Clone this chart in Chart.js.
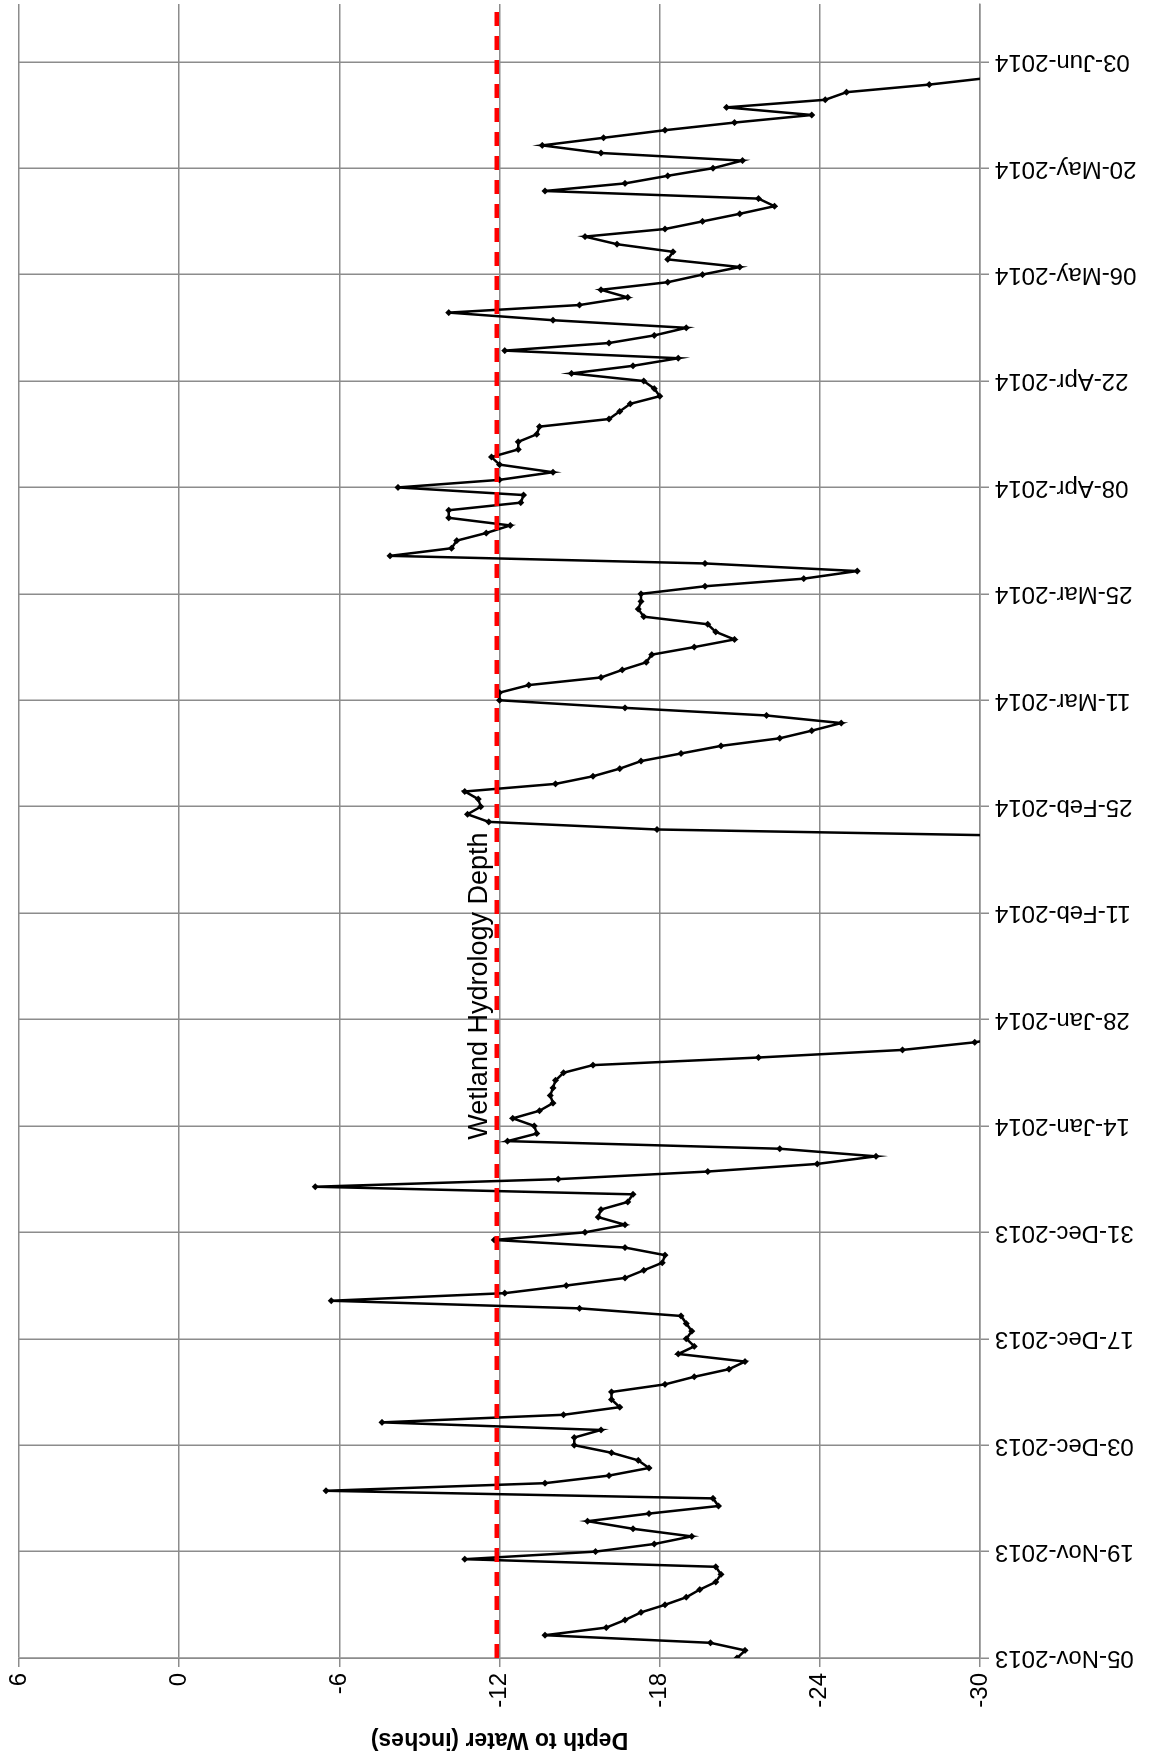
<!DOCTYPE html>
<html>
<head>
<meta charset="utf-8">
<script src="https://cdn.jsdelivr.net/npm/chart.js@4.4.0/dist/chart.umd.min.js"></script>
<style>
  html, body { margin: 0; padding: 0; background: #fff; overflow: hidden; }
  body { width: 1149px; height: 1763px; position: relative; }
  /* chart is drawn landscape, then turned a quarter to the left like the scan */
  #wrap { position: absolute; left: 0; top: 0; width: 1763px; height: 1149px;
          transform-origin: 0 0; transform: translate(0, 1763px) rotate(-90deg); }
</style>
</head>
<body>
<div id="wrap"><canvas id="depthChart" width="1763" height="1149"></canvas></div>
<script>
// daily readings, depth to water in inches
const startNovJan = '2013-11-05';
const depthsNovJan = [
  -20.9, -21.2, -19.9, -13.7, -16.0, -16.7, -17.3, -18.2, -19.0, -19.5,
  -20.1, -20.3, -20.1, -10.7, -15.6, -17.8, -19.2, -17.0, -15.3, -17.6,
  -20.2, -20.0, -5.5, -13.7, -16.1, -17.6, -17.2, -16.2, -14.8, -14.8,
  -15.8, -7.6, -14.4, -16.5, -16.2, -16.2, -18.2, -19.3, -20.6, -21.2,
  -18.7, -19.3, -19.0, -19.2, -19.0, -18.8, -15.0, -5.7, -12.2, -14.5,
  -16.7, -17.4, -18.1, -18.2, -16.7, -11.8, -15.2, -16.7, -15.7, -15.8,
  -16.8, -17.0, -5.1, -14.2, -19.8, -23.9, -26.1, -22.5, -12.3, -13.4,
  -13.3, -12.5, -13.5, -14.0, -13.9, -14.0, -14.1, -14.4, -15.5, -21.7,
  -27.1, -29.8, -31.5
];
const startFebJun = '2014-02-21';
const depthsFebJun = [
  -34.3, -17.9, -11.6, -10.8, -11.3, -11.2, -10.7, -14.1, -15.5, -16.5,
  -17.3, -18.8, -20.3, -22.5, -23.7, -24.8, -22.0, -16.7, -12.0, -12.0,
  -13.1, -15.8, -16.6, -17.5, -17.7, -19.3, -20.8, -20.1, -19.8, -17.4,
  -17.2, -17.3, -17.3, -19.7, -23.4, -25.4, -19.7, -7.9, -10.2, -10.4,
  -11.5, -12.4, -10.1, -10.1, -12.8, -12.9, -8.2, -12.0, -14.0, -12.0,
  -11.7, -12.7, -12.7, -13.4, -13.5, -16.1, -16.5, -16.9, -18.0, -17.8,
  -17.4, -14.7, -17.0, -18.7, -12.2, -16.1, -17.8, -19.0, -14.0, -10.1,
  -15.0, -16.8, -15.8, -18.3, -19.6, -21.0, -18.3, -18.5, -16.4, -15.2,
  -18.2, -19.6, -21.0, -22.3, -21.7, -13.7, -16.7, -18.3, -20.0, -21.1,
  -15.8, -13.6, -15.9, -18.2, -20.8, -23.7, -20.5, -24.2, -25.0, -28.1, -30.6
];
const wetlandDepth = -11.9;
const wetlandLabel = 'Wetland Hydrology Depth';

const tickDates = ['05-Nov-2013', '19-Nov-2013', '03-Dec-2013', '17-Dec-2013', '31-Dec-2013',
  '14-Jan-2014', '28-Jan-2014', '11-Feb-2014', '25-Feb-2014', '11-Mar-2014', '25-Mar-2014',
  '08-Apr-2014', '22-Apr-2014', '06-May-2014', '20-May-2014', '03-Jun-2014'];
const depthTicks = [6, 0, -6, -12, -18, -24, -30];
const lastDay = 217.6; // axis runs on past 03-Jun, page is cut there

const dayMs = 86400000;
function dayOf(iso) {
  return Math.round((Date.parse(iso) - Date.parse(startNovJan)) / dayMs);
}
function toPoints(start, values) {
  const d0 = dayOf(start);
  return values.map((v, i) => ({ x: d0 + i, y: v }));
}
const readings = toPoints(startNovJan, depthsNovJan).concat(toPoints(startFebJun, depthsFebJun));

Chart.defaults.font.family = '"Liberation Sans", Arial, sans-serif';
Chart.defaults.color = '#000';

// label over the red line
const wetlandText = {
  id: 'wetlandText',
  afterDatasetsDraw(chart) {
    const { ctx, scales } = chart;
    const x = scales.x.getPixelForValue(88.4);
    const y = scales.y.getPixelForValue(wetlandDepth);
    ctx.save();
    ctx.font = '27px "Liberation Sans", Arial, sans-serif';
    ctx.fillStyle = '#000';
    ctx.textAlign = 'center';
    ctx.textBaseline = 'bottom';
    ctx.fillText(wetlandLabel, x, y - 4);
    ctx.restore();
  }
};

const ctx = document.getElementById('depthChart').getContext('2d');
const depthChart = new Chart(ctx, {
  type: 'line',
  data: {
    datasets: [{
      label: 'Wetland',
      data: [{ x: 0, y: wetlandDepth }, { x: lastDay, y: wetlandDepth }],
      borderColor: '#ff0000',
      borderWidth: 4.5,
      borderDash: [14, 10],
      pointRadius: 0,
      order: 0
    }, {
      label: 'Depth',
      data: readings,
      borderColor: '#000',
      borderWidth: 2.5,
      pointStyle: 'rectRot',
      pointRadius: 3.5,
      pointBackgroundColor: '#000',
      pointBorderColor: '#000',
      pointBorderWidth: 0,
      tension: 0,
      order: 1
    }]
  },
  options: {
    responsive: false,
    animation: false,
    devicePixelRatio: 1,
    layout: { padding: { top: 19, right: 0, bottom: 0, left: 0 } },
    plugins: { legend: { display: false }, tooltip: { enabled: false } },
    scales: {
      x: {
        type: 'linear',
        min: 0,
        max: lastDay,
        afterBuildTicks: (scale) => {
          scale.ticks = scale.ticks.filter(t => t.value % 14 === 0 && t.value <= 210);
        },
        afterFit: (scale) => {
          scale.height = 169;
          scale.paddingLeft = 0;
          scale.paddingRight = 0;
        },
        ticks: {
          stepSize: 14,
          autoSkip: false,
          minRotation: 90,
          maxRotation: 90,
          padding: 6,
          font: { size: 24 },
          callback: (v) => tickDates[Math.round(v / 14)] || ''
        },
        grid: { color: '#8c8c8c', lineWidth: 1.5, tickLength: 9, tickColor: '#8c8c8c' },
        border: { color: '#8c8c8c', width: 1.5 }
      },
      y: {
        min: -30,
        max: 6,
        afterBuildTicks: (scale) => {
          scale.ticks = depthTicks.map(v => ({ value: v }));
        },
        afterFit: (scale) => {
          scale.width = 105;
          scale.paddingTop = 0;
          scale.paddingBottom = 0;
        },
        ticks: {
          padding: 6,
          font: { size: 24 },
          callback: (v) => String(v)
        },
        title: {
          display: true,
          text: 'Depth to Water (inches)',
          font: { size: 23, weight: 'bold' },
          padding: { top: 10, bottom: 4 }
        },
        grid: { color: '#8c8c8c', lineWidth: 1.5, tickLength: 9, tickColor: '#8c8c8c' },
        border: { color: '#8c8c8c', width: 1.5 }
      }
    }
  },
  plugins: [wetlandText]
});
</script>
</body>
</html>
